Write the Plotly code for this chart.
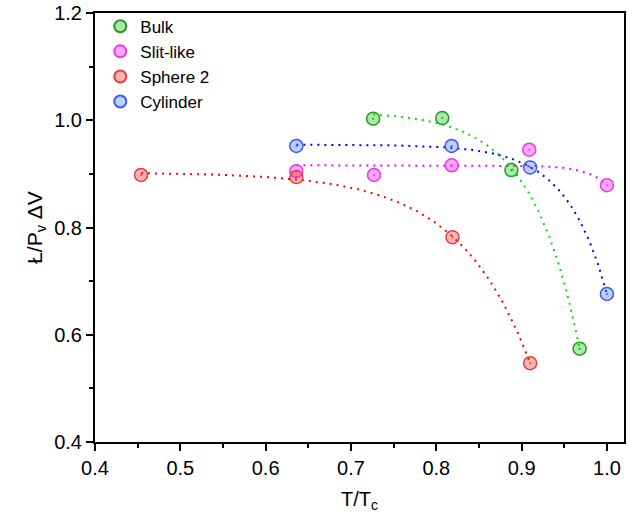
import numpy as np
import plotly.graph_objects as go

# Data
bulk_x = [0.726, 0.807, 0.888, 0.968]
bulk_y = [1.003, 1.004, 0.907, 0.574]
slit_x = [0.636, 0.727, 0.818, 0.909, 1.000]
slit_y = [0.905, 0.898, 0.916, 0.945, 0.879]
sphere_x = [0.454, 0.636, 0.819, 0.910]
sphere_y = [0.898, 0.894, 0.782, 0.547]
cyl_x = [0.636, 0.818, 0.910, 1.000]
cyl_y = [0.952, 0.952, 0.912, 0.676]

series = [
    ("Bulk", bulk_x, bulk_y, "rgba(0,200,0,0.35)", "rgb(40,150,40)", "rgb(0,230,0)"),
    ("Slit-like", slit_x, slit_y, "rgba(255,0,255,0.35)", "rgb(230,60,230)", "rgb(255,0,255)"),
    ("Sphere 2", sphere_x, sphere_y, "rgba(255,40,40,0.35)", "rgb(235,60,60)", "rgb(255,0,0)"),
    ("Cylinder", cyl_x, cyl_y, "rgba(60,120,255,0.35)", "rgb(60,90,240)", "rgb(0,0,255)"),
]


def exp_fit(x, y):
    """Fit y = A + B*exp(x/t) by grid search on t and linear least squares."""
    x = np.asarray(x, float)
    y = np.asarray(y, float)
    best = None
    for t in np.linspace(0.025, 0.5, 4000):
        M = np.column_stack([np.ones_like(x), np.exp((x - x.max()) / t)])
        coef, *_ = np.linalg.lstsq(M, y, rcond=None)
        r = np.sum((M @ coef - y) ** 2)
        if best is None or r < best[0]:
            best = (r, t, coef)
    _, t, coef = best
    xs = np.linspace(x.min(), x.max(), 200)
    ys = coef[0] + coef[1] * np.exp((xs - x.max()) / t)
    return xs, ys


fig = go.Figure()

for name, xs, ys, fill, edge, lc in series:
    fx, fy = exp_fit(xs, ys)
    fig.add_trace(go.Scatter(x=fx, y=fy, mode="lines", showlegend=False,
                             line=dict(color=lc, width=2, dash="2px,5px"),
                             hoverinfo="skip"))

for name, xs, ys, fill, edge, lc in series:
    fig.add_trace(go.Scatter(x=xs, y=ys, mode="markers", name=name,
                             marker=dict(size=13, color=fill,
                                         line=dict(color=edge, width=1.5))))
    fig.add_trace(go.Scatter(x=xs, y=ys, mode="markers", showlegend=False,
                             marker=dict(size=2, color=edge), hoverinfo="skip"))

axis_common = dict(
    showline=True, linecolor="black", linewidth=2, mirror=True,
    ticks="outside", ticklen=7, tickwidth=2, tickcolor="black",
    showgrid=False, zeroline=False, automargin=False,
    tickfont=dict(family="Liberation Sans, Arial", size=20, color="black"),
)

fig.update_xaxes(range=[0.4, 1.02], tick0=0.4, dtick=0.1, tickformat=".1f",
                 minor=dict(ticks="outside", ticklen=4, tickwidth=2, dtick=0.05,
                            tickcolor="black"),
                 title=dict(text="T/T<sub>c</sub>", standoff=14,
                            font=dict(family="Liberation Sans, Arial", size=20, color="black")),
                 **axis_common)
fig.update_yaxes(range=[0.4, 1.2], tick0=0.4, dtick=0.2, tickformat=".1f",
                 minor=dict(ticks="outside", ticklen=4, tickwidth=2, dtick=0.1,
                            tickcolor="black"),
                 title=dict(text="Ł/P<sub>v</sub> ΔV", standoff=6,
                            font=dict(family="Liberation Sans, Arial", size=21, color="black")),
                 **axis_common)

fig.update_layout(
    width=632, height=519,
    margin=dict(l=95, r=8, t=13, b=77),
    plot_bgcolor="white", paper_bgcolor="white",
    showlegend=True,
    legend=dict(x=0.01, y=1.01, xanchor="left", yanchor="top",
                bgcolor="rgba(0,0,0,0)", borderwidth=0,
                font=dict(family="Liberation Sans, Arial", size=17, color="black"),
                itemsizing="constant", tracegroupgap=0),
)

fig.write_html("out.html")
